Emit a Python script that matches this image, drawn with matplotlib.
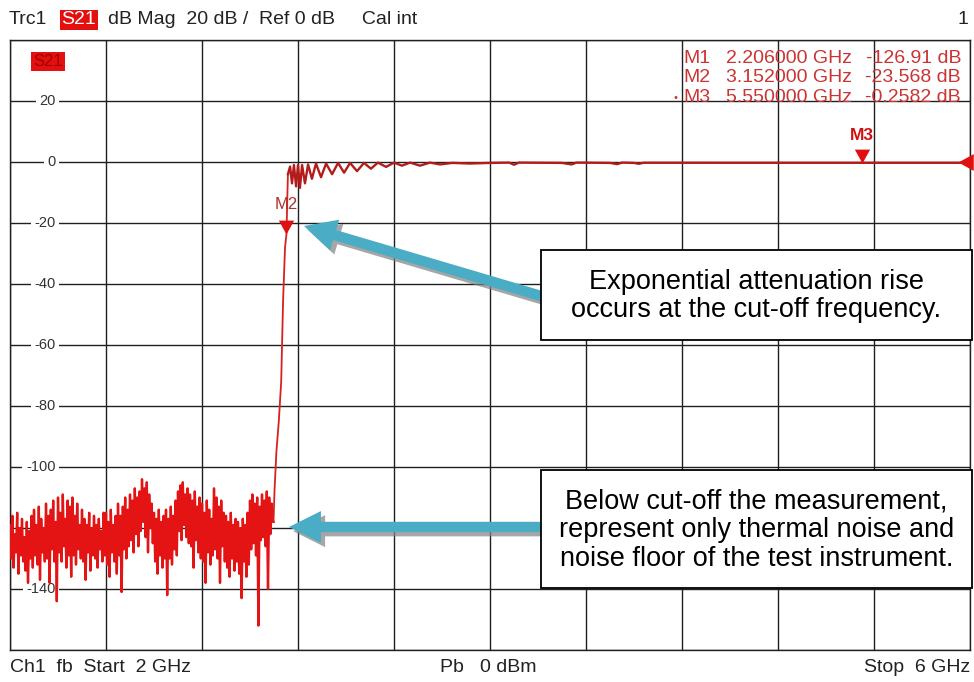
import numpy as np
import matplotlib
matplotlib.use('Agg')
import matplotlib.pyplot as plt
from matplotlib.patches import Rectangle, FancyArrowPatch
import matplotlib.patheffects as pe

plt.rcParams['font.family'] = ['Liberation Sans', 'DejaVu Sans']

W, H = 974, 682

# noise floor below cut-off, one reading every 5 MHz from 2 GHz
noise_start = 2.0
noise_step = 0.005
noise_db = [
    -119, -130, -116, -133, -122, -128, -115, -135, -120, -129,
    -117, -131, -123, -134, -118, -138, -121, -130, -116, -133,
    -114, -129, -119, -132, -113, -137, -117, -128, -120, -131,
    -112, -130, -116, -138, -114, -127, -111, -131, -118, -144,
    -110, -128, -115, -131, -109, -126, -117, -133, -111, -129,
    -113, -136, -110, -129, -116, -132, -112, -127, -119, -130,
    -114, -131, -117, -137, -119, -128, -115, -134, -120, -129,
    -116, -130, -119, -133, -117, -127, -121, -131, -115, -129,
    -115, -132, -118, -136, -114, -128, -119, -131, -116, -135,
    -112, -129, -116, -141, -113, -127, -110, -130, -114, -126,
    -109, -124, -111, -128, -107, -122, -110, -126, -108, -121,
    -104, -118, -107, -123, -105, -128, -109, -120, -112, -125,
    -115, -131, -117, -135, -114, -129, -118, -133, -116, -130,
    -114, -142, -117, -130, -113, -132, -116, -127, -111, -129,
    -108, -121, -106, -124, -105, -119, -109, -123, -107, -125,
    -109, -126, -111, -133, -108, -124, -113, -128, -110, -130,
    -112, -131, -115, -138, -111, -128, -114, -132, -117, -129,
    -107, -127, -110, -130, -113, -138, -111, -126, -115, -131,
    -116, -133, -118, -136, -115, -130, -119, -134, -117, -131,
    -118, -135, -120, -143, -117, -131, -119, -136, -115, -132,
    -111, -127, -109, -125, -112, -129, -110, -152, -113, -124,
    -109, -123, -111, -126, -108, -140, -110, -122, -112, -118,
]
noise_freq = noise_start + noise_step * np.arange(len(noise_db))

# steep edge at the cut-off
edge_freq = [3.098, 3.102, 3.110, 3.120, 3.130, 3.138, 3.146, 3.152, 3.156, 3.158]
edge_db = [-118, -108, -95, -85, -72, -45, -28, -23.6, -10, -4]

# ripple in the pass band
ripple_freq = [3.167, 3.175, 3.183, 3.192, 3.200, 3.208, 3.217, 3.229, 3.242, 3.258,
               3.275, 3.296, 3.317, 3.342, 3.367, 3.392, 3.417, 3.446, 3.475, 3.504,
               3.533, 3.567, 3.600, 3.633, 3.667, 3.708, 3.750, 3.792, 3.842, 3.917]
ripple_db = [-1.5, -7, -1, -8, -1, -8.5, -1, -7, -0.8, -5.5,
             -0.5, -5, -0.5, -4, -0.3, -3.5, -0.3, -3, -0.3, -2.2,
             -0.2, -1.6, -0.2, -1.2, -0.2, -1.2, -0.2, -0.8, -0.3, -0.5]

flat_freq = [4.0, 4.08, 4.10, 4.12, 4.30, 4.34, 4.36, 4.50, 4.53, 4.55,
             4.60, 4.62, 4.64, 5.0, 5.5, 6.0]
flat_db = [-0.3, -0.2, -0.9, -0.2, -0.3, -0.8, -0.2, -0.3, -0.7, -0.2,
           -0.3, -0.6, -0.25, -0.26, -0.26, -0.26]

marker_names = ['M1', 'M2', 'M3']
marker_freq = [2.206, 3.152, 5.55]
marker_db = [-126.91, -23.568, -0.2582]

y_ticks = [20, 0, -20, -40, -60, -80, -100, -140]

pass_freq = np.concatenate([edge_freq, ripple_freq, flat_freq])
pass_db = np.concatenate([edge_db, ripple_db, flat_db])


def fxy(px, py):
    return px / W, 1 - py / H


fig = plt.figure(figsize=(W / 100, H / 100), dpi=100)
ax = fig.add_axes([10 / W, 32 / H, 960 / W, 610 / H])
ax.set_xlim(2, 6)
ax.set_ylim(-160, 40)
ax.set_xticks(np.arange(2, 6.01, 0.4))
ax.set_yticks(np.arange(-160, 41, 20))
ax.tick_params(length=0, labelbottom=False, labelleft=False)
ax.grid(True, color='#202020', lw=1.0)
ax.set_axisbelow(True)
for s in ax.spines.values():
    s.set_color('#202020')
    s.set_linewidth(1.0)

for v in y_ticks:
    ax.text(2.19, v, str(v), ha='right', va='center', fontsize=10.5, color='#333333',
            bbox=dict(boxstyle='square,pad=0.25', fc='white', ec='none'), zorder=2.5)

# trace: noisy part, then edge and pass band
ax.plot(np.concatenate([noise_freq, pass_freq[:1]]),
        np.concatenate([noise_db, pass_db[:1]]),
        color='#e41414', lw=1.7, zorder=3)
ax.plot(pass_freq[:10], pass_db[:10], color='#d82020', lw=1.3, zorder=3)
ax.plot(pass_freq[9:], pass_db[9:], color='#b41c1c', lw=1.7, zorder=3)

# marker triangles (tip on the trace)
tri_down = [(-0.55, 1), (0.55, 1), (0, 0)]
for name, f, d in zip(marker_names[1:], marker_freq[1:], marker_db[1:]):
    ax.plot(f, d, marker=tri_down, ms=20, color='#e01010', mec='none', zorder=4)
ax.text(marker_freq[1], marker_db[1] + 9.5, 'M2', ha='center', va='center',
        fontsize=12, color='#b03030', zorder=4)
ax.text(marker_freq[2], marker_db[2] + 9, 'M3', ha='center', va='center',
        fontsize=12.5, fontweight='bold', color='#d01010', zorder=4)

# reference level indicator at the right edge
ax.plot(5.95, 0, marker=[(0, 0), (1, 0.55), (1, -0.55)], ms=22, color='#e01010',
        mec='none', clip_on=False, zorder=4)

# marker readout
rows_y = [58.5, 78, 97.5]
for name, f, d, py in zip(marker_names, marker_freq, marker_db, rows_y):
    fig.text(*fxy(683, py), name, ha='left', va='center', fontsize=14, color='#cc3333')
    fig.text(*fxy(852, py), '%.6f GHz' % f, ha='right', va='center', fontsize=14,
             color='#cc3333')
    if abs(d) < 1:
        val = '%.4f dB' % d
    elif abs(d) < 100:
        val = '%.3f dB' % d
    else:
        val = '%.2f dB' % d
    fig.text(*fxy(961, py), val, ha='right', va='center', fontsize=14, color='#cc3333')
fig.text(*fxy(676, 98), '\u2022', ha='center', va='center', fontsize=8, color='#cc3333')

# S21 tag in the plot
fig.text(*fxy(48, 61), 'S21', ha='center', va='center', fontsize=12, color='#a00000',
         bbox=dict(boxstyle='square,pad=0.12', fc='#e41010', ec='none'))

# header line
fig.text(*fxy(9, 20), 'Trc1', ha='left', va='center', fontsize=14, color='#222222')
fig.text(*fxy(79, 20), 'S21', ha='center', va='center', fontsize=14, color='white',
         bbox=dict(boxstyle='square,pad=0.1', fc='#e41010', ec='none'))
fig.text(*fxy(108, 20), 'dB Mag  20 dB /  Ref 0 dB     Cal int', ha='left', va='center',
         fontsize=14, color='#222222')
fig.text(*fxy(968, 20), '1', ha='right', va='center', fontsize=14, color='#222222')

# footer line
fig.text(*fxy(10, 668), 'Ch1  fb  Start  2 GHz', ha='left', va='center', fontsize=14,
         color='#222222')
fig.text(*fxy(488, 668), 'Pb   0 dBm', ha='center', va='center', fontsize=14,
         color='#222222')
fig.text(*fxy(970, 668), 'Stop  6 GHz', ha='right', va='center', fontsize=14,
         color='#222222')

# call-out arrows
arrows = [((541, 296), (304, 226)), ((541, 527), (289, 527))]
for tail, tip in arrows:
    arr = FancyArrowPatch(fxy(*tail), fxy(*tip), transform=fig.transFigure,
                          arrowstyle='simple,head_length=23,head_width=23,tail_width=7.5',
                          mutation_scale=1, shrinkA=0, shrinkB=0,
                          fc='#4bacc6', ec='none', zorder=5,
                          path_effects=[pe.withSimplePatchShadow(offset=(3, -3),
                                                                 shadow_rgbFace='#808080',
                                                                 alpha=0.7)])
    fig.add_artist(arr)

# call-out boxes
boxes = [
    ((541, 250, 972, 340), 'Exponential attenuation rise\noccurs at the cut-off frequency.'),
    ((541, 470, 972, 588), 'Below cut-off the measurement,\nrepresent only thermal noise and\n'
                           'noise floor of the test instrument.'),
]
for (x0, y0, x1, y1), txt in boxes:
    bl = fxy(x0, y1)
    rect = Rectangle(bl, (x1 - x0) / W, (y1 - y0) / H, transform=fig.transFigure,
                     fc='white', ec='black', lw=1.3, zorder=6)
    fig.add_artist(rect)
    fig.text(*fxy((x0 + x1) / 2, (y0 + y1) / 2 + 1), txt, ha='center', va='center',
             fontsize=19.5, linespacing=1.13, color='black', zorder=7)

fig.savefig('out.png', dpi=100)
